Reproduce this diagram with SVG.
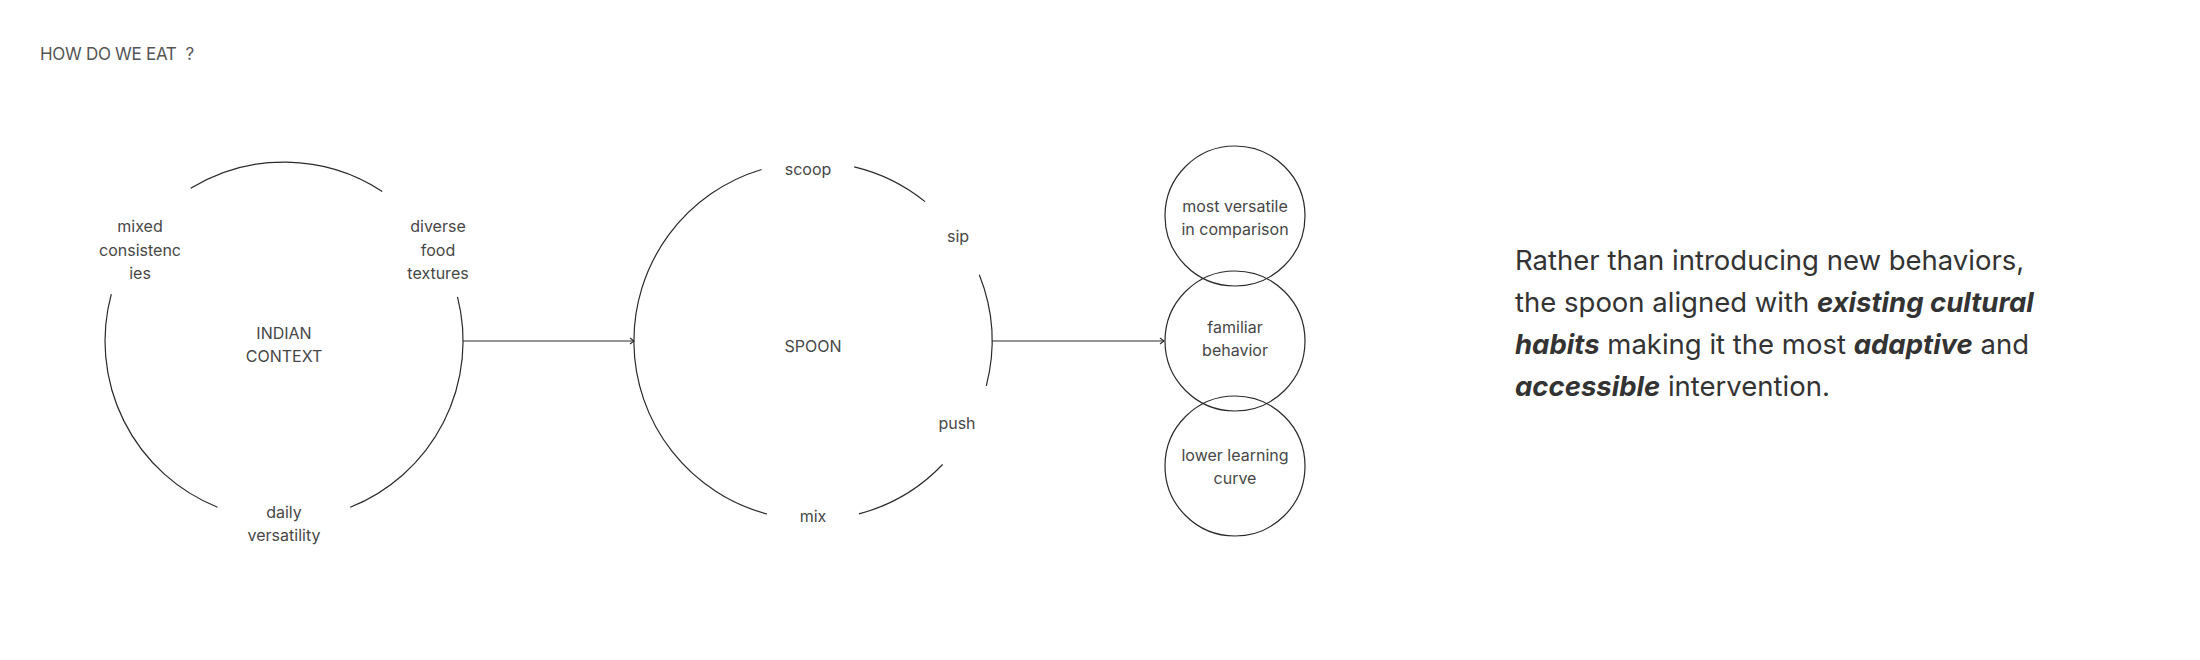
<svg xmlns="http://www.w3.org/2000/svg" width="2200" height="660" viewBox="0 0 2200 660">
<style>
  text { font-family: Inter, "Noto Sans", "Liberation Sans", sans-serif; }
  .lbl { font-size: 16px; fill: #474747; text-anchor: middle; }
  .title { font-size: 17px; fill: #555555; letter-spacing: -0.3px; white-space: pre; }
  .arc { fill: none; stroke: #2a2a2a; stroke-width: 1.2; }
  .circ { fill: none; stroke: #2a2a2a; stroke-width: 1.2; }
  .conn { fill: none; stroke: #2a2a2a; stroke-width: 1.2; }
  .para { font-size: 27.5px; fill: #333333; }
  .em { font-weight: 700; font-style: italic; }
</style>
<defs>
  <marker id="arrow" markerWidth="8" markerHeight="8" refX="5" refY="4" orient="auto" markerUnits="userSpaceOnUse">
    <path d="M1,1 L5,4 L1,7" fill="none" stroke="#2a2a2a" stroke-width="1.1"/>
  </marker>
</defs>
<rect width="2200" height="660" fill="#ffffff"/>

<text id="title" class="title" x="40" y="59.5" xml:space="preserve">HOW DO WE EAT  ?</text>

<g id="indian-context">
  <path class="arc" d="M190.7,188.3 A179,179 0 0 1 382.3,191.4"/>
  <path class="arc" d="M111.3,294.1 A179,179 0 0 0 217.5,507.2"/>
  <path class="arc" d="M457.5,296.8 A179,179 0 0 1 350.2,507.3"/>
  <text class="lbl" x="284" y="339">INDIAN</text>
  <text class="lbl" x="284" y="362">CONTEXT</text>
  <text class="lbl" x="140" y="232">mixed</text>
  <text class="lbl" x="140" y="255.5">consistenc</text>
  <text class="lbl" x="140" y="279">ies</text>
  <text class="lbl" x="438" y="232">diverse</text>
  <text class="lbl" x="438" y="255.5">food</text>
  <text class="lbl" x="438" y="279">textures</text>
  <text class="lbl" x="284" y="518">daily</text>
  <text class="lbl" x="284" y="541">versatility</text>
</g>

<g id="spoon">
  <path class="arc" d="M761.6,169.5 A179,179 0 0 0 767,514"/>
  <path class="arc" d="M854.2,166.8 A179,179 0 0 1 925.1,201.6"/>
  <path class="arc" d="M979.3,274.8 A179,179 0 0 1 986.3,385.8"/>
  <path class="arc" d="M942.6,464.5 A179,179 0 0 1 859,513.9"/>
  <text class="lbl" x="813" y="352">SPOON</text>
  <text class="lbl" x="808" y="175">scoop</text>
  <text class="lbl" x="958" y="242">sip</text>
  <text class="lbl" x="957" y="429">push</text>
  <text class="lbl" x="813" y="522">mix</text>
</g>

<g id="most-versatile">
  <circle class="circ" cx="1235" cy="216" r="70"/>
  <text class="lbl" x="1235" y="212">most versatile</text>
  <text class="lbl" x="1235" y="234.5">in comparison</text>
</g>
<g id="familiar-behavior">
  <circle class="circ" cx="1235" cy="341" r="70"/>
  <text class="lbl" x="1235" y="333">familiar</text>
  <text class="lbl" x="1235" y="355.5">behavior</text>
</g>
<g id="lower-learning">
  <circle class="circ" cx="1235" cy="466" r="70"/>
  <text class="lbl" x="1235" y="461">lower learning</text>
  <text class="lbl" x="1235" y="484">curve</text>
</g>

<g id="connectors">
  <line class="conn" x1="463" y1="341" x2="634" y2="341" marker-end="url(#arrow)"/>
  <line class="conn" x1="992" y1="341" x2="1164" y2="341" marker-end="url(#arrow)"/>
</g>

<g id="statement">
  <text class="para" x="1515" y="270">Rather than introducing new behaviors,</text>
  <text class="para" x="1515" y="312">the spoon aligned with <tspan class="em">existing cultural</tspan></text>
  <text class="para" x="1515" y="354"><tspan class="em">habits</tspan> making it the most <tspan class="em">adaptive</tspan> and</text>
  <text class="para" x="1515" y="396"><tspan class="em">accessible</tspan> intervention.</text>
</g>
</svg>
